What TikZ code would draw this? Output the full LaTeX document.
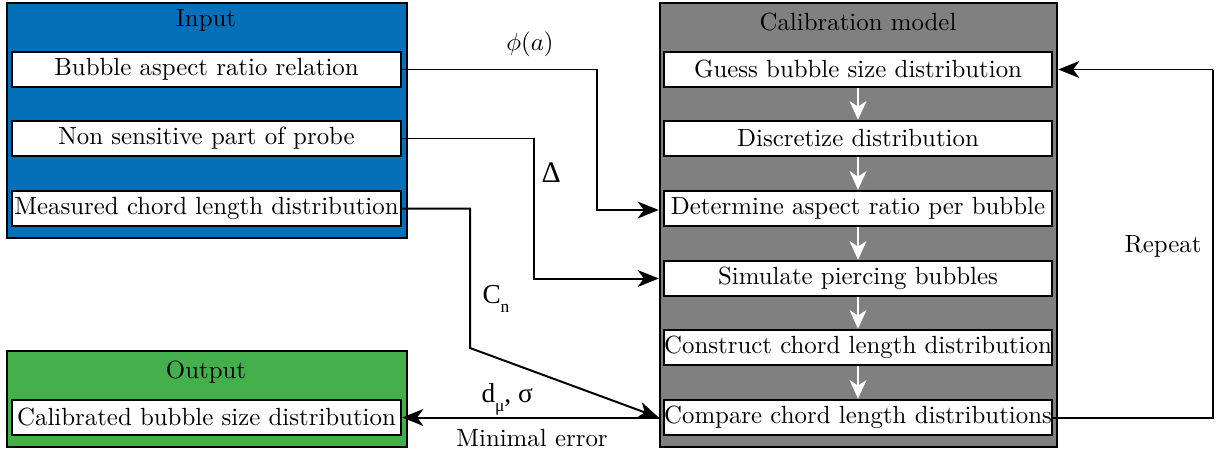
\documentclass[tikz,border=0pt]{standalone}
\usepackage{fontspec}
\newfontfamily\lblfont{Liberation Serif}
\usetikzlibrary{arrows.meta}
\definecolor{inblue}{RGB}{5,112,186}
\definecolor{outgreen}{RGB}{67,176,75}
\definecolor{calgray}{RGB}{128,128,128}
\newlength{\pxu}
\setlength{\pxu}{0.4025pt}
\tikzset{
  outerbox/.style={draw=black, line width=1pt, inner sep=0pt},
  innerbox/.style={draw=black, fill=white, line width=1pt, inner sep=0pt,
    minimum width=388\pxu, minimum height=35\pxu, font=\fontsize{10}{12}\selectfont},
  titletext/.style={font=\fontsize{10}{12}\selectfont, inner sep=0pt},
  conn/.style={line width=0.8pt, -{Stealth[length=8.5pt, width=6.8pt, inset=2.5pt]}},
  plainconn/.style={line width=0.8pt},
  whitearrow/.style={white, line width=0.9pt, -{Stealth[length=7.5pt, width=6.8pt, inset=2.2pt]}},
  lbl/.style={font=\fontsize{10}{12}\selectfont, inner sep=0pt},
  sanslbl/.style={font=\lblfont\fontsize{11}{13}\selectfont, inner sep=0pt, anchor=base west}
}
\begin{document}
\begin{tikzpicture}[x=0.4025pt, y=-0.4025pt]
\useasboundingbox (0,0) rectangle (1223,452);
% outer boxes
\node[outerbox, fill=inblue, minimum width=400\pxu, minimum height=235\pxu] (inp) at (207,120.5) {};
\node[outerbox, fill=outgreen, minimum width=400\pxu, minimum height=96\pxu] (outp) at (207,399) {};
\node[outerbox, fill=calgray, minimum width=397\pxu, minimum height=444\pxu] (cal) at (858.5,225) {};
% titles
\node[titletext] (tin) at (206,20) {Input};
\node[titletext] (tout) at (206,372) {Output};
\node[titletext] (tcal) at (858,22) {Calibration model};
% input boxes
\node[innerbox, minimum width=389\pxu] (bar) at (206.5,69.5) {Bubble aspect ratio relation};
\node[innerbox, minimum width=389\pxu] (nsp) at (206.5,138.5) {Non sensitive part of probe};
\node[innerbox, minimum width=389\pxu] (mcl) at (206.5,208.5) {Measured chord length distribution};
% output box
\node[innerbox, minimum width=389\pxu] (cbs) at (206.5,417.5) {Calibrated bubble size distribution};
% calibration boxes
\node[innerbox] (g1) at (858,69.5) {Guess bubble size distribution};
\node[innerbox] (g2) at (858,138.5) {Discretize distribution};
\node[innerbox] (g3) at (858,208.5) {Determine aspect ratio per bubble};
\node[innerbox] (g4) at (858,278.5) {Simulate piercing bubbles};
\node[innerbox] (g5) at (858,347.5) {Construct chord length distribution};
\node[innerbox] (g6) at (858,417.5) {Compare chord length distributions};
% white arrows
\draw[whitearrow] (g1) -- (g2);
\draw[whitearrow] (g2) -- (g3);
\draw[whitearrow] (g3) -- (g4);
\draw[whitearrow] (g4) -- (g5);
\draw[whitearrow] (g5) -- (g6);
% coordinates
\coordinate (c1a) at (597,69.5);
\coordinate (c1b) at (597,210);
\coordinate (c1e) at (cal.west |- c1b);
\coordinate (c2a) at (534,138.5);
\coordinate (c2b) at (534,278.5);
\coordinate (c2e) at (cal.west |- c2b);
\coordinate (c3a) at (470,208.5);
\coordinate (c3b) at (470,348);
\coordinate (c3e) at (cal.west |- g6);
\coordinate (c5a) at (1213,417.5);
\coordinate (c5b) at (1213,69.5);
\coordinate (c5e) at (cal.east |- g1);
% connectors
\draw[conn] (bar.east) -- (c1a) -- (c1b) -- (c1e);
\draw[conn] (nsp.east) -- (c2a) -- (c2b) -- (c2e);
\draw[conn] (mcl.east) -- (c3a) -- (c3b) -- (c3e);
\draw[conn] (c3e) -- (cbs.east);
\draw[plainconn] (g6.east) -- (c5a) -- (c5b);
\draw[conn] (c5b) -- (c5e);
% labels
\node[lbl] (lphi) at (530,44) {$\phi(a)$};
\node[sanslbl, font=\lblfont\fontsize{12}{14}\selectfont] (ldelta) at (541,182) {Δ};
\node[sanslbl] (lcn) at (482,303) {C\raisebox{-0.75ex}{\fontsize{7}{8}\selectfont n}};
\node[sanslbl] (ldmu) at (481,402) {d\raisebox{-0.75ex}{\fontsize{7}{8}\selectfont μ}, σ};
\node[lbl] (lmin) at (532,438) {Minimal error};
\node[lbl] (lrep) at (1163,246) {Repeat};
\end{tikzpicture}
\end{document}
